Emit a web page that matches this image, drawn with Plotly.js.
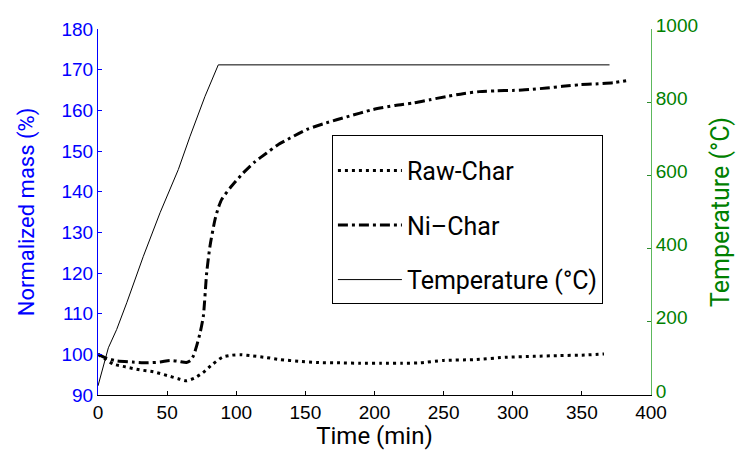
<!DOCTYPE html>
<html>
<head>
<meta charset="utf-8">
<script src="https://cdn.plot.ly/plotly-3.0.1.min.js"></script>
<style>html,body{margin:0;padding:0;background:#fff;}#chart{width:741px;height:450px;}</style>
</head>
<body>
<div id="chart"></div>
<script>
// Time (min) and values
const rawTime = [0, 5, 11, 20, 30, 40, 50, 58, 64, 70, 76, 83, 90, 97, 103, 112, 122, 132, 145, 158, 175, 190, 205, 220, 233, 250, 272, 296, 315, 334, 350, 366];
const rawMass = [100, 98.9, 97.6, 96.9, 96.2, 95.7, 94.8, 94.0, 93.5, 94.2, 95.5, 97.6, 99.3, 99.8, 99.9, 99.6, 99.2, 98.7, 98.3, 98.0, 97.9, 97.8, 97.8, 97.8, 97.9, 98.5, 98.7, 99.3, 99.5, 99.7, 99.8, 100.1];

const niTime = [0, 5, 13.5, 25, 35, 45, 52, 58, 64, 67, 69, 71.3, 74, 76.2, 78.6, 81, 84.6, 87, 89.5, 95.5, 105, 113, 122, 130, 139, 151, 165, 180, 199, 215, 228, 240, 252, 264, 276, 288, 300, 312, 324.5, 336, 348.6, 360, 372.7, 382];
const niMass = [100, 99.2, 98.4, 98.1, 97.9, 98.1, 98.5, 98.3, 98.0, 98.5, 99.6, 102, 105.5, 109.4, 120, 126.6, 133.1, 136, 138.1, 140.9, 144.6, 147.2, 149.5, 151.5, 153.2, 155.3, 156.9, 158.4, 160.2, 161.2, 161.8, 162.6, 163.4, 164.1, 164.6, 164.8, 164.9, 165.1, 165.5, 165.9, 166.3, 166.5, 166.8, 167.3];

const tempTime = [0, 0.3, 3.4, 7.5, 13.5, 20.8, 32.8, 44.9, 58.1, 66.6, 77.4, 87, 370];
const tempVal = [25, 29, 70, 129, 179, 252, 379, 498, 616, 707, 816, 902, 902];

const seriesNames = ['Raw-Char', 'Ni\u2013Char', 'Temperature (\u00B0C)'];

const condensed = 'Roboto, "Liberation Sans", Arial, sans-serif';
const plain = '"Liberation Sans", Arial, Helvetica, sans-serif';

const traces = [
  {x: rawTime, y: rawMass, name: seriesNames[0], type: 'scatter', mode: 'lines', legendgroup: 'a',
   line: {color: '#000', width: 3, dash: '3px,4px', shape: 'spline', smoothing: 0.6}},
  {x: niTime, y: niMass, name: seriesNames[1], type: 'scatter', mode: 'lines', legendgroup: 'b',
   line: {color: '#000', width: 3, dash: '10px,4px,3px,4px', shape: 'spline', smoothing: 0.6}},
  {x: tempTime, y: tempVal, name: seriesNames[2], type: 'scatter', mode: 'lines', yaxis: 'y2', legendgroup: 'c',
   line: {color: '#000', width: 1}}
];

const layout = {
  width: 741, height: 450,
  margin: {l: 98, r: 90, t: 29, b: 55},
  paper_bgcolor: '#fff', plot_bgcolor: '#fff',
  showlegend: true,
  legend: {
    x: 0.423, y: 0.71, xanchor: 'left', yanchor: 'top',
    bgcolor: '#fff', bordercolor: '#000', borderwidth: 1,
    font: {family: condensed, size: 25, color: '#000'},
    title: {text: ' ', font: {size: 9}},
    itemwidth: 64, tracegroupgap: 19, traceorder: 'grouped'
  },
  xaxis: {
    range: [0, 400], dtick: 50, tick0: 0,
    ticks: 'inside', ticklen: 4, tickcolor: '#000',
    showline: true, linecolor: '#000', linewidth: 1,
    showgrid: false, zeroline: false,
    tickfont: {family: plain, size: 19, color: '#000'},
    title: {text: 'Time (min)', font: {family: condensed, size: 24, color: '#000'}, standoff: 8}
  },
  yaxis: {
    range: [90, 180], dtick: 10, tick0: 90,
    ticks: 'inside', ticklen: 4, tickcolor: '#0000ff',
    showline: true, linecolor: '#0000ff', linewidth: 1,
    showgrid: false, zeroline: false,
    tickfont: {family: plain, size: 19, color: '#0000ff'},
    title: {text: 'Normalized mass (%)', font: {family: condensed, size: 22, color: '#0000ff'}, standoff: 20}
  },
  yaxis2: {
    range: [0, 1000], dtick: 200, tick0: 0,
    overlaying: 'y', side: 'right',
    ticks: 'inside', ticklen: 4, tickcolor: '#2e8b2e',
    showline: true, linecolor: '#5cb85c', linewidth: 1,
    showgrid: false, zeroline: false,
    ticklabelshift: -4,
    tickfont: {family: plain, size: 19, color: '#008000'},
    title: {text: 'Temperature (\u00B0C)', font: {family: condensed, size: 25, color: '#008000'}, standoff: 14}
  }
};

Plotly.newPlot('chart', traces, layout, {displayModeBar: false, staticPlot: true});
</script>
</body>
</html>
